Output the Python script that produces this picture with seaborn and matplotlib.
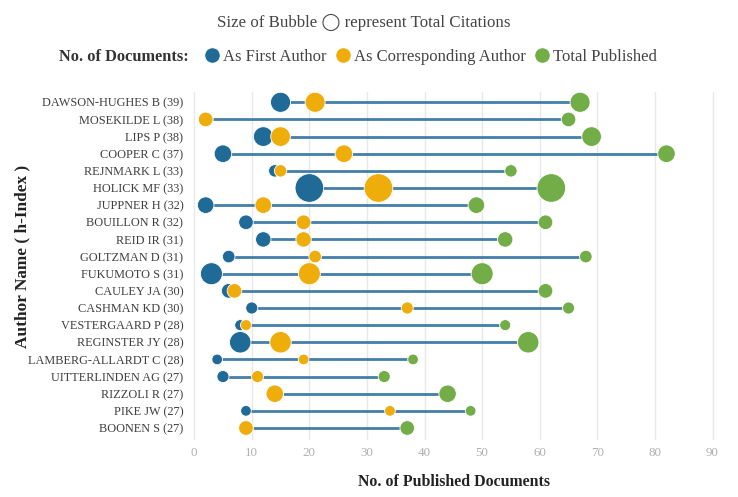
import numpy as np
import pandas as pd
import matplotlib
matplotlib.use("Agg")
import matplotlib.pyplot as plt
import seaborn as sns
from matplotlib.lines import Line2D

# ----------------------------
# Data
# ----------------------------
authors = ["DAWSON-HUGHES B (39)", "MOSEKILDE L (38)", "LIPS P (38)", "COOPER C (37)",
           "REJNMARK L (33)", "HOLICK MF (33)", "JUPPNER H (32)", "BOUILLON R (32)",
           "REID IR (31)", "GOLTZMAN D (31)", "FUKUMOTO S (31)", "CAULEY JA (30)",
           "CASHMAN KD (30)", "VESTERGAARD P (28)", "REGINSTER JY (28)",
           "LAMBERG-ALLARDT C (28)", "UITTERLINDEN AG (27)", "RIZZOLI R (27)",
           "PIKE JW (27)", "BOONEN S (27)"]
first_author = [15, 2, 12, 5, 14, 20, 2, 9, 12, 6, 3, 6, 10, 8, 8, 4, 5, 14, 9, 9]
corresponding = [21, 2, 15, 26, 15, 32, 12, 19, 19, 21, 20, 7, 37, 9, 15, 19, 11, 14, 34, 9]
total_published = [67, 65, 69, 82, 55, 62, 49, 61, 54, 68, 50, 61, 65, 54, 58, 38, 33, 44, 48, 37]
citations = [15200, 8100, 14600, 11700, 5800, 31000, 10400, 8100, 9000, 6000,
             18300, 8100, 5500, 4600, 17400, 4300, 5500, 11500, 4300, 8100]

roles = ["As First Author", "As Corresponding Author", "Total Published"]
colors = {"As First Author": "#1f6a97", "As Corresponding Author": "#efad0b",
          "Total Published": "#72ad48"}

df = pd.concat([
    pd.DataFrame({"author": authors, "docs": vals, "role": role, "citations": citations})
    for role, vals in zip(roles, [first_author, corresponding, total_published])
], ignore_index=True)

serif = ["Liberation Serif", "DejaVu Serif"]

# ----------------------------
# Plot
# ----------------------------
sns.set_style("white")
plt.rcParams["font.family"] = serif

fig = plt.figure(figsize=(7.38, 4.97), dpi=100)
ax_left, ax_right, ax_top, ax_bottom = 193, 716, 92, 440
ax = fig.add_axes([ax_left / 738, 1 - ax_bottom / 497,
                   (ax_right - ax_left) / 738, (ax_bottom - ax_top) / 497])

# connecting lines from min to max per author
lo = np.minimum(np.minimum(first_author, corresponding), total_published)
hi = np.maximum(np.maximum(first_author, corresponding), total_published)
ax.hlines(np.arange(len(authors)), lo, hi, color="#24679a", lw=2, alpha=0.85, zorder=1)

max_r_pt = 2 * 14.3 * 0.72
sns.scatterplot(data=df, x="docs", y="author", hue="role", palette=colors,
                size="citations", sizes=(0, max_r_pt ** 2), size_norm=(0, max(citations)),
                edgecolor="white", linewidth=0.6, alpha=1, legend=False, ax=ax, zorder=3)

ax.set_xlim(-0.2, 90.6)
ax.set_ylim(len(authors) - 0.3, -0.6)
ax.set_xticks(np.arange(0, 91, 10))
ax.grid(axis="x", color="#e8e8e8", lw=1)
ax.set_axisbelow(True)
for s in ax.spines.values():
    s.set_visible(False)

ax.tick_params(axis="y", length=4, color="#cccccc", labelsize=8.8, labelcolor="#3f3f3f", pad=3)
ax.tick_params(axis="x", length=0, labelsize=9.4, labelcolor="#b0b0b0", pad=5)
ax.set_xlabel("No. of Published Documents", fontsize=11.4, fontweight="bold", color="#222222")
ax.set_ylabel("Author Name ( h-Index )", fontsize=12.4, fontweight="bold", color="#222222")
ax.xaxis.set_label_coords(0.5, (ax_bottom - 482) / (ax_bottom - ax_top), transform=ax.transAxes)
ax.xaxis.label.set_va("center")
ax.yaxis.set_label_coords((22 - ax_left) / (ax_right - ax_left),
                          (ax_bottom - 256) / (ax_bottom - ax_top), transform=ax.transAxes)
ax.yaxis.label.set_va("center")

# top annotations / legend
fig.text(364 / 738, 1 - 22 / 497, "Size of Bubble \u25EF represent Total Citations",
         ha="center", va="center", fontsize=12.2, color="#444444",
         family=["Liberation Serif", "DejaVu Sans"])
fig.text(59 / 738, 1 - 57 / 497, "No. of Documents:", ha="left", va="center",
         fontsize=11.8, fontweight="bold", color="#333333")
handles = [Line2D([], [], marker="o", ls="", markersize=11, markerfacecolor=colors[r],
                  markeredgecolor="white", markeredgewidth=0.5) for r in roles]
fig.legend(handles, roles, loc="center left", bbox_to_anchor=(187 / 738, 1 - 57 / 497),
           ncol=3, frameon=False, handletextpad=0.05, columnspacing=0.4,
           handlelength=1.2, prop={"size": 12}, labelcolor="#444444")

fig.savefig("out.png", dpi=100)
